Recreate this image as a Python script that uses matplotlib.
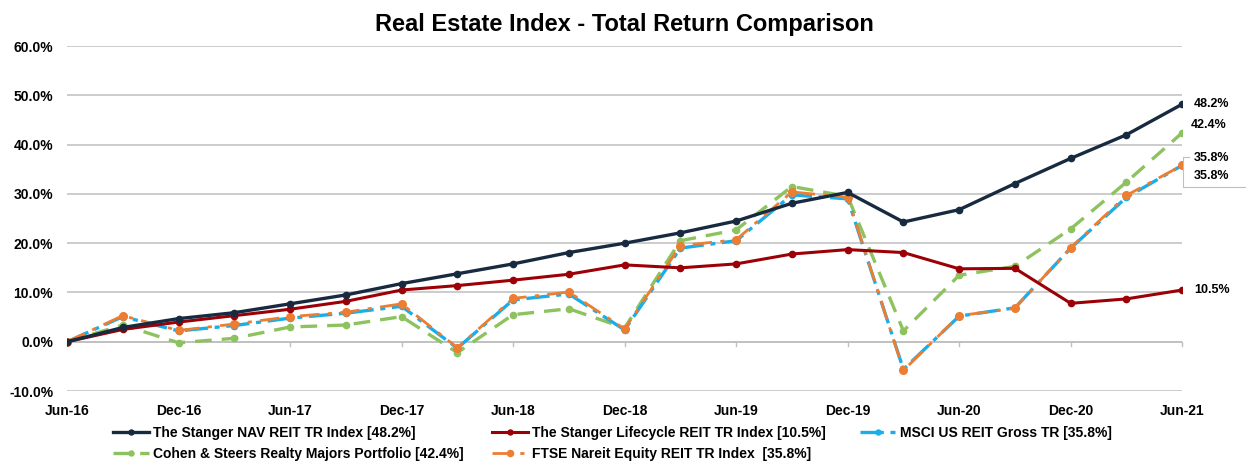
import matplotlib.pyplot as plt

quarters = ["Jun-16", "Sep-16", "Dec-16", "Mar-17", "Jun-17", "Sep-17", "Dec-17",
            "Mar-18", "Jun-18", "Sep-18", "Dec-18", "Mar-19", "Jun-19", "Sep-19",
            "Dec-19", "Mar-20", "Jun-20", "Sep-20", "Dec-20", "Mar-21", "Jun-21"]

stanger_nav = [0.0, 2.9, 4.7, 5.9, 7.7, 9.5, 11.8, 13.8, 15.8, 18.1, 20.0, 22.1,
               24.5, 28.1, 30.3, 24.3, 26.8, 32.1, 37.2, 42.0, 48.2]
stanger_life = [0.0, 2.5, 4.0, 5.3, 6.6, 8.2, 10.5, 11.4, 12.5, 13.7, 15.6, 15.0,
                15.8, 17.8, 18.7, 18.1, 14.8, 14.9, 7.8, 8.7, 10.5]
msci = [0.0, 5.1, 2.2, 3.3, 4.8, 5.8, 7.2, -1.3, 8.5, 9.7, 2.4, 19.0,
        20.5, 29.8, 29.0, -5.6, 5.2, 6.9, 19.0, 29.3, 35.8]
cohen = [0.0, 3.4, -0.2, 0.7, 3.0, 3.4, 5.1, -2.2, 5.5, 6.7, 2.8, 20.5,
         22.7, 31.5, 29.5, 2.2, 13.5, 15.3, 22.9, 32.4, 42.4]
ftse = [0.0, 5.3, 2.3, 3.6, 5.1, 6.0, 7.7, -1.2, 8.8, 10.1, 2.6, 19.5,
        20.7, 30.4, 29.3, -5.8, 5.3, 6.8, 19.1, 29.7, 35.8]

names = ["The Stanger NAV REIT TR Index [48.2%]",
         "The Stanger Lifecycle REIT TR Index [10.5%]",
         "MSCI US REIT Gross TR [35.8%]",
         "Cohen & Steers Realty Majors Portfolio [42.4%]",
         "FTSE Nareit Equity REIT TR Index  [35.8%]"]

plt.rcParams['font.family'] = ['Liberation Sans', 'DejaVu Sans']

x = list(range(len(quarters)))

fig = plt.figure(figsize=(12.46, 4.65), dpi=100)
ax = fig.add_axes([0.0538, 0.159, 0.895, 0.742])

l_cohen, = ax.plot(x, cohen, color="#8DC35E", lw=2.4, marker='o', ms=4.5,
                   dashes=(5, 3), zorder=3)
l_msci, = ax.plot(x, msci, color="#1AAEE8", lw=2.4, marker='o', ms=4.5,
                  dashes=(7, 2, 1.5, 2), zorder=3)
l_ftse, = ax.plot(x, ftse, color="#ED7D31", lw=2.0, marker='o', ms=5.5,
                  dashes=(7, 3, 1.5, 3), zorder=4)
l_life, = ax.plot(x, stanger_life, '-', color="#9C0006", lw=2.2, marker='o', ms=4.5, zorder=5)
l_nav, = ax.plot(x, stanger_nav, '-', color="#172A40", lw=2.4, marker='o', ms=4.5, zorder=6)

ax.set_xlim(0, len(x) - 1)
ax.set_ylim(-10, 60)
ax.set_yticks(range(-10, 61, 10))
ax.set_yticklabels([f"{v:.1f}%" for v in range(-10, 61, 10)])
ax.set_xticks(x[::2])
ax.set_xticklabels(quarters[::2])
ax.grid(axis='y', color="#C8C8C8", lw=1.3)
ax.set_axisbelow(True)
for s in ax.spines.values():
    s.set_visible(False)
ax.axhline(0, color="#C0C0C0", lw=1.3, zorder=1)
for xi in x[::2]:
    ax.plot([xi, xi], [0, -0.9], color="#C0C0C0", lw=1, zorder=1, clip_on=False)
ax.tick_params(axis='y', length=0, labelsize=10, pad=10)
ax.tick_params(axis='x', length=0, labelsize=10, pad=9)
for t in ax.get_xticklabels() + ax.get_yticklabels():
    t.set_fontweight('bold')

ax.set_title("Real Estate Index - Total Return Comparison", fontsize=17,
             fontweight='bold', pad=11)

# end labels
last = len(x) - 1
lab = dict(fontsize=9, fontweight='bold', va='center', ha='left', annotation_clip=False,
           textcoords='offset points')
ax.annotate(f"{stanger_nav[-1]:.1f}%", (last, stanger_nav[-1]), xytext=(8, 0), **lab)
ax.annotate(f"{cohen[-1]:.1f}%", (last, cohen[-1]), xytext=(6.5, 5.5), **lab)
ax.annotate(f"{msci[-1]:.1f}%", (last, msci[-1]), xytext=(8, 5), **lab)
ax.annotate(f"{ftse[-1]:.1f}%", (last, ftse[-1]), xytext=(8.5, -7.5), **lab)
ax.annotate(f"{stanger_life[-1]:.1f}%", (last, stanger_life[-1]), xytext=(8.5, 0), **lab)
ax.plot([last + 0.12, last + 0.02, last + 0.02, last + 1.2],
        [37.4, 37.4, 31.3, 31.3], color="#BFBFBF", lw=0.8, clip_on=False, zorder=2)

cols = [([l_nav, l_cohen], [names[0], names[3]], 113),
        ([l_life, l_ftse], [names[1], names[4]], 492),
        ([l_msci], [names[2]], 860)]
for hs, ls, px in cols:
    fig.legend(hs, ls, loc='upper left', bbox_to_anchor=(px / 1246, 1 - 426 / 465),
               frameon=False, prop={'weight': 'bold', 'size': 10},
               handlelength=2.6, handletextpad=0.3, labelspacing=0.5,
               borderaxespad=0, borderpad=0, markerscale=0.8)

fig.savefig("out.png", dpi=100)
